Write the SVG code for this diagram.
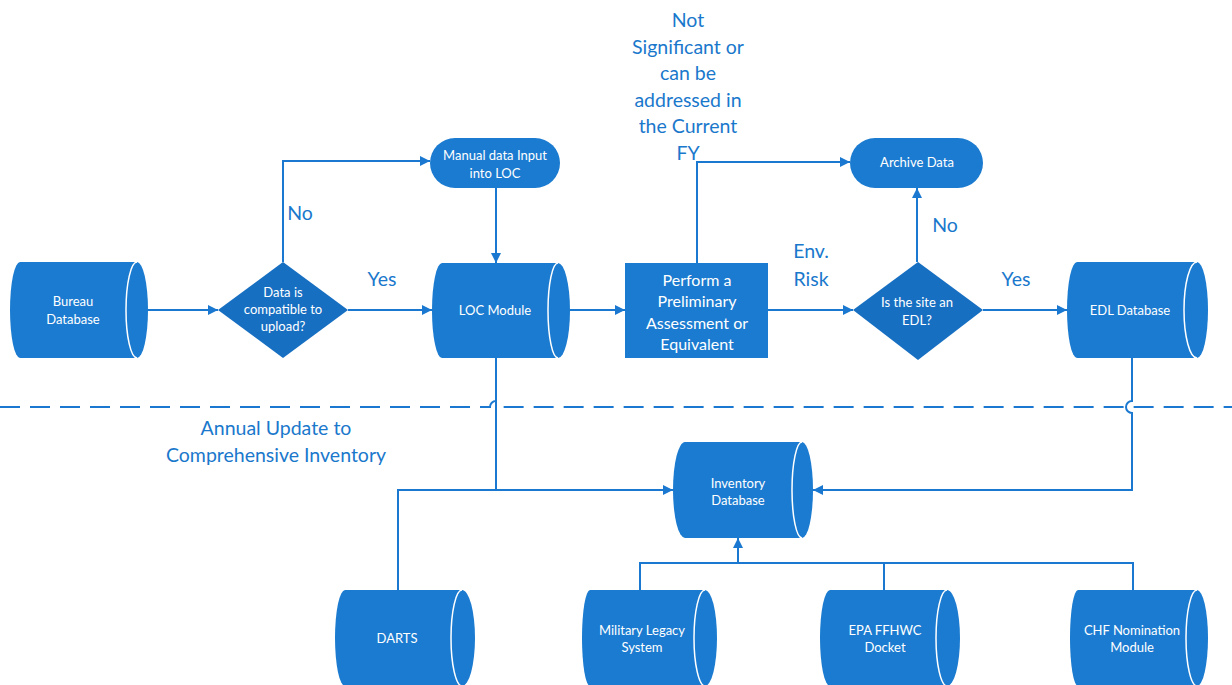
<svg xmlns="http://www.w3.org/2000/svg" width="1232" height="685" viewBox="0 0 1232 685">
<style>
.cyl{fill:#1b7bd0}
.inner{fill:none;stroke:#ffffff;stroke-width:1.5}
.dia{fill:#176fc2}
.box{fill:#1b7bd0}
.nt{font-family:Lato,"Liberation Sans",sans-serif;font-size:13px;fill:#ffffff;text-anchor:middle}
.pt{font-family:Lato,"Liberation Sans",sans-serif;font-size:16px;fill:#ffffff;text-anchor:middle}
.lbl{font-family:Lato,"Liberation Sans",sans-serif;font-size:19.5px;fill:#1a78cc;text-anchor:middle}
.ln{fill:none;stroke:#1a78d0;stroke-width:2}
</style>
<defs>
<marker id="arr" viewBox="0 0 10 10" refX="10" refY="5" markerWidth="10" markerHeight="10" markerUnits="userSpaceOnUse" orient="auto">
<path d="M0,0 L10,5 L0,10 Z" fill="#1a78d0"/>
</marker>
</defs>
<g id="connectors">
<path class="ln" d="M148,310 L218,310" marker-end="url(#arr)"/>
<path class="ln" d="M348,310 L432,310" marker-end="url(#arr)"/>
<path class="ln" d="M283,262 L283,161 L430,161" marker-end="url(#arr)"/>
<path class="ln" d="M496,188 L496,263" marker-end="url(#arr)"/>
<path class="ln" d="M570,310 L625,310" marker-end="url(#arr)"/>
<path class="ln" d="M697,263 L697,162 L850,162" marker-end="url(#arr)"/>
<path class="ln" d="M768,310 L853,310" marker-end="url(#arr)"/>
<path class="ln" d="M917,262 L917,188" marker-end="url(#arr)"/>
<path class="ln" d="M983,310 L1067,310" marker-end="url(#arr)"/>
<path class="ln" d="M496,358 L496,490 L673,490" marker-end="url(#arr)"/>
<path class="ln" d="M398,590 L398,490 L496,490"/>
<path class="ln" d="M1132,358 L1132,401 A6,6 0 0 0 1132,413 L1132,490 L813,490" marker-end="url(#arr)"/>
<path class="ln" d="M640,590 L640,563 L1133,563 L1133,590"/>
<path class="ln" d="M884,563 L884,590"/>
<path class="ln" d="M738,563 L738,538" marker-end="url(#arr)"/>
<path class="ln" stroke-dasharray="20 10" d="M0,407 L490,407 A6,6 0 0 1 502,407 L1232,407"/>
</g>
<g id="bureau">
<path class="cyl" d="M20,262 L137,262 A11,48 0 0 1 137,358 L20,358 A10,48 0 0 1 20,262 Z"/>
<path class="inner" d="M137,262 A11,48 0 0 0 137,358"/>
<text class="nt" x="73" y="306">Bureau</text>
<text class="nt" x="73" y="324">Database</text>
</g>
<g id="decision1">
<path class="dia" d="M283,262 L348,310 L283,358 L218,310 Z"/>
<text class="nt" x="283" y="297">Data is</text>
<text class="nt" x="283" y="314">compatible to</text>
<text class="nt" x="283" y="331">upload?</text>
</g>
<g id="manual">
<rect class="box" x="430" y="138" width="130" height="50" rx="25" ry="25"/>
<text class="nt" x="495" y="160">Manual data Input</text>
<text class="nt" x="495" y="178">into LOC</text>
</g>
<g id="loc">
<path class="cyl" d="M442,263 L558,263 A12,47.5 0 0 1 558,358 L442,358 A10,47.5 0 0 1 442,263 Z"/>
<path class="inner" d="M558,263 A10,47.5 0 0 0 558,358"/>
<text class="nt" x="495" y="315">LOC Module</text>
</g>
<g id="assessment">
<rect class="box" x="625" y="263" width="143" height="95"/>
<text class="pt" x="697" y="286">Perform a</text>
<text class="pt" x="697" y="307">Preliminary</text>
<text class="pt" x="697" y="329">Assessment or</text>
<text class="pt" x="697" y="350">Equivalent</text>
</g>
<g id="archive">
<rect class="box" x="850" y="138" width="133" height="50" rx="25" ry="25"/>
<text class="nt" x="917" y="167">Archive Data</text>
</g>
<g id="decision2">
<path class="dia" d="M918,262 L983,310 L918,360 L853,310 Z"/>
<text class="nt" x="917" y="307">Is the site an</text>
<text class="nt" x="917" y="325">EDL?</text>
</g>
<g id="edl">
<path class="cyl" d="M1077,262 L1197,262 A11,48 0 0 1 1197,358 L1077,358 A10,48 0 0 1 1077,262 Z"/>
<path class="inner" d="M1197,262 A13,48 0 0 0 1197,358"/>
<text class="nt" x="1130" y="315">EDL Database</text>
</g>
<g id="inventory">
<path class="cyl" d="M685,442 L802,442 A11,48 0 0 1 802,538 L685,538 A12,48 0 0 1 685,442 Z"/>
<path class="inner" d="M802,442 A10,48 0 0 0 802,538"/>
<text class="nt" x="738" y="488">Inventory</text>
<text class="nt" x="738" y="505">Database</text>
</g>
<g id="darts">
<path class="cyl" d="M345,590 L462,590 A13,48 0 0 1 462,686 L345,686 A10,48 0 0 1 345,590 Z"/>
<path class="inner" d="M462,590 A11,48 0 0 0 462,686"/>
<text class="nt" x="397" y="643">DARTS</text>
</g>
<g id="military">
<path class="cyl" d="M590,590 L705,590 A12,48 0 0 1 705,686 L590,686 A8,48 0 0 1 590,590 Z"/>
<path class="inner" d="M705,590 A11,48 0 0 0 705,686"/>
<text class="nt" x="642" y="635">Military Legacy</text>
<text class="nt" x="642" y="652">System</text>
</g>
<g id="epa">
<path class="cyl" d="M830,590 L947,590 A13,48 0 0 1 947,686 L830,686 A10,48 0 0 1 830,590 Z"/>
<path class="inner" d="M947,590 A11,48 0 0 0 947,686"/>
<text class="nt" x="885" y="635">EPA FFHWC</text>
<text class="nt" x="885" y="652">Docket</text>
</g>
<g id="chf">
<path class="cyl" d="M1078,590 L1197,590 A11,48 0 0 1 1197,686 L1078,686 A8,48 0 0 1 1078,590 Z"/>
<path class="inner" d="M1197,590 A11,48 0 0 0 1197,686"/>
<text class="nt" x="1132" y="635">CHF Nomination</text>
<text class="nt" x="1132" y="652">Module</text>
</g>
<g id="labels">
<text class="lbl" x="688" y="27">Not</text>
<text class="lbl" x="688" y="54">Significant or</text>
<text class="lbl" x="688" y="80">can be</text>
<text class="lbl" x="688" y="107">addressed in</text>
<text class="lbl" x="688" y="133">the Current</text>
<text class="lbl" x="688" y="160">FY</text>
<text class="lbl" x="300" y="220">No</text>
<text class="lbl" x="382" y="286">Yes</text>
<text class="lbl" x="811" y="258">Env.</text>
<text class="lbl" x="811" y="286">Risk</text>
<text class="lbl" x="945" y="232">No</text>
<text class="lbl" x="1016" y="286">Yes</text>
<text class="lbl" x="276" y="435">Annual Update to</text>
<text class="lbl" x="276" y="462">Comprehensive Inventory</text>
</g>
</svg>
